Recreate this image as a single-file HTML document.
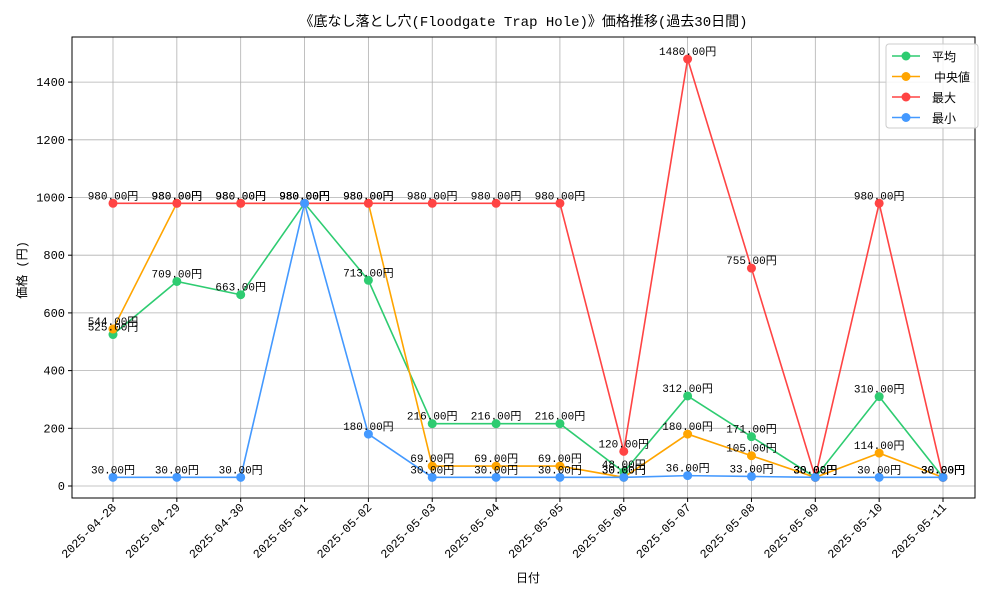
<!DOCTYPE html>
<html><head><meta charset="utf-8">
<style>
body{margin:0;background:#fff;}
svg{display:block;font-family:"Liberation Sans","Noto Sans CJK JP",sans-serif;}
text{font-family:"Liberation Mono","Noto Sans CJK JP",monospace;}
</style></head>
<body>
<svg id="chart" width="1000" height="600" xmlns="http://www.w3.org/2000/svg"></svg>
<script>
const dates=["2025-04-28","2025-04-29","2025-04-30","2025-05-01","2025-05-02","2025-05-03","2025-05-04","2025-05-05","2025-05-06","2025-05-07","2025-05-08","2025-05-09","2025-05-10","2025-05-11"];
const avgVals=[525,709,663,980,713,216,216,216,48,312,171,30,310,30];
const medVals=[544,980,980,980,980,69,69,69,30,180,105,30,114,30];
const maxVals=[980,980,980,980,980,980,980,980,120,1480,755,30,980,30];
const minVals=[30,30,30,980,180,30,30,30,30,36,33,30,30,30];
const yTicks=[0,200,400,600,800,1000,1200,1400];
const seriesNames=["平均","中央値","最大","最小"];

const svg=document.getElementById('chart');
const NS="http://www.w3.org/2000/svg";
const L=72,R=975,T=37,B=498;
const x0=113,x1=943;
function xs(i){return x0+(x1-x0)*i/(dates.length-1);}
function ys(v){return 486-v*(486-82.1)/1400;}
function mk(tag,attrs,name,parent){const e=document.createElementNS(NS,tag);for(const k in attrs)e.setAttribute(k,attrs[k]);


(parent||svg).appendChild(e);return e;}

// grid
dates.forEach((d,i)=>{mk('line',{x1:xs(i),x2:xs(i),y1:T,y2:B,stroke:'#b0b0b0','stroke-width':0.8},'x-grid-line');});
yTicks.forEach(v=>{mk('line',{x1:L,x2:R,y1:ys(v),y2:ys(v),stroke:'#b0b0b0','stroke-width':0.8},'y-grid-line');});
mk('rect',{x:L,y:T,width:R-L,height:B-T,fill:'none',stroke:'#000','stroke-width':1},'plot-frame');
// ticks
yTicks.forEach(v=>{mk('line',{x1:L-4,x2:L,y1:ys(v),y2:ys(v),stroke:'#000'},'y-tick');
const t=mk('text',{x:L-7,y:ys(v)+4,'text-anchor':'end','font-size':12},'y-tick-label');t.textContent=v;});
dates.forEach((d,i)=>{mk('line',{x1:xs(i),x2:xs(i),y1:B,y2:B+4,stroke:'#000'},'x-tick');
const t=mk('text',{x:xs(i)+4,y:B+10,'text-anchor':'end','font-size':12,transform:`rotate(-45 ${xs(i)+4} ${B+10})`},'x-tick-label');t.textContent=d;});
let t=mk('text',{x:(L+R)/2,y:26,'text-anchor':'middle','font-size':14},'chart-title');t.textContent="《底なし落とし穴(Floodgate Trap Hole)》価格推移(過去30日間)";
t=mk('text',{x:528,y:582,'text-anchor':'middle','font-size':12},'x-axis-title');t.textContent="日付";
t=mk('text',{x:26,y:270,'text-anchor':'middle','font-size':12,transform:'rotate(-90 26 270)'},'y-axis-title');t.textContent="価格 (円)";

const all=[[avgVals,'#2ecc71','avg'],[medVals,'#ffa500','median'],[maxVals,'#ff4444','max'],[minVals,'#4499ff','min']];
all.forEach(([vals,c,n])=>{
 mk('polyline',{points:vals.map((v,i)=>xs(i)+','+ys(v)).join(' '),fill:'none',stroke:c,'stroke-width':1.6},'line-'+n);
 vals.forEach((v,i)=>{mk('circle',{cx:xs(i),cy:ys(v),r:4.5,fill:c},'point-'+n);});
});
all.forEach(([vals,c,n])=>{
 vals.forEach((v,i)=>{const tt=mk('text',{x:xs(i),y:ys(v)-4,'text-anchor':'middle','font-size':11},'value-label-'+n);tt.textContent=v.toFixed(2)+"円";});
});
// legend
const lg=mk('g',{},'legend');
mk('rect',{x:886,y:44,width:92,height:84,rx:3,fill:'#fff','fill-opacity':0.85,stroke:'#ccc'},'legend-box',lg);
all.forEach(([v,c,n],k)=>{const y=56+k*20.5;
 mk('line',{x1:892,x2:920,y1:y,y2:y,stroke:c,'stroke-width':1.6},'legend-line-'+n,lg);
 mk('circle',{cx:906,cy:y,r:4.5,fill:c},'legend-marker-'+n,lg);
 const tx=mk('text',{x:k==1?934:932,y:y+5,'font-size':12},'legend-entry-'+n,lg);tx.textContent=seriesNames[k];});
</script>
</body></html>
